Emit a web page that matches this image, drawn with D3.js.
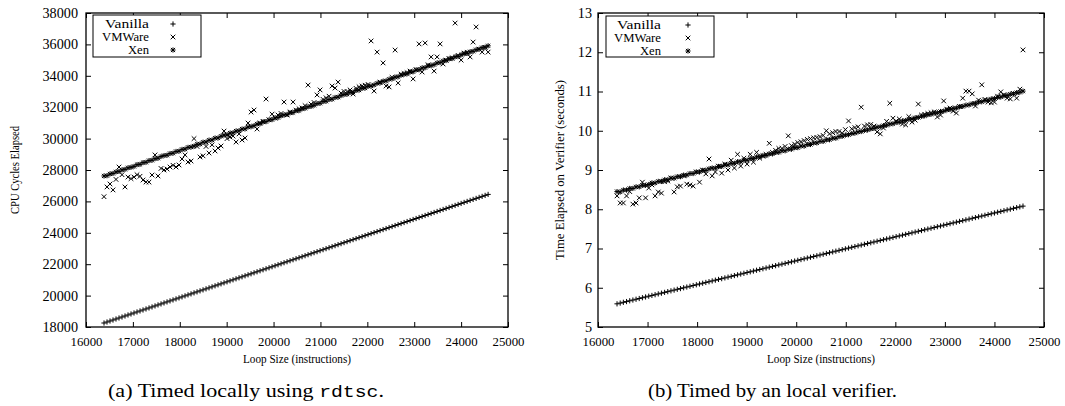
<!DOCTYPE html>
<html><head><meta charset="utf-8">
<script src="https://cdn.jsdelivr.net/npm/d3@7"></script>
<style>
body{margin:0;background:#fff}
svg{display:block}
svg text{font-family:"Liberation Serif","Tinos","Times New Roman","DejaVu Serif",serif;fill:#000}
svg text tspan.mono{font-family:"Liberation Mono","Cousine","Courier New","DejaVu Sans Mono",monospace}
</style>
</head><body>
<svg id="chart" width="1065" height="406"></svg>
<script>
// ---------- data ----------
const loopSize = [
16384,16448,16512,16576,16640,16704,16768,16832,16896,16960,
17024,17088,17152,17216,17280,17344,17408,17472,17536,17600,
17664,17728,17792,17856,17920,17984,18048,18112,18176,18240,
18304,18368,18432,18496,18560,18624,18688,18752,18816,18880,
18944,19008,19072,19136,19200,19264,19328,19392,19456,19520,
19584,19648,19712,19776,19840,19904,19968,20032,20096,20160,
20224,20288,20352,20416,20480,20544,20608,20672,20736,20800,
20864,20928,20992,21056,21120,21184,21248,21312,21376,21440,
21504,21568,21632,21696,21760,21824,21888,21952,22016,22080,
22144,22208,22272,22336,22400,22464,22528,22592,22656,22720,
22784,22848,22912,22976,23040,23104,23168,23232,23296,23360,
23424,23488,23552,23616,23680,23744,23808,23872,23936,24000,
24064,24128,24192,24256,24320,24384,24448,24512,24576];

const cyclesVanilla = [
18254,18318,18382,18446,18510,18574,18638,18702,18766,18830,
18894,18958,19022,19086,19150,19214,19278,19342,19406,19470,
19534,19598,19662,19726,19790,19854,19918,19982,20046,20110,
20174,20238,20302,20366,20430,20494,20558,20622,20686,20750,
20814,20878,20942,21006,21070,21134,21198,21262,21326,21390,
21454,21518,21582,21646,21710,21774,21838,21902,21966,22030,
22094,22158,22222,22286,22350,22414,22478,22542,22606,22670,
22734,22798,22862,22926,22990,23054,23118,23182,23246,23310,
23374,23438,23502,23566,23630,23694,23758,23822,23886,23950,
24014,24078,24142,24206,24270,24334,24398,24462,24526,24590,
24654,24718,24782,24846,24910,24974,25038,25102,25166,25230,
25294,25358,25422,25486,25550,25614,25678,25742,25806,25870,
25934,25998,26062,26126,26190,26254,26318,26382,26446];

const cyclesVMWare = [
26300,26920,27110,26730,27400,28190,27700,26920,27550,27450,
27550,27700,27600,27360,27230,27230,27680,28960,27620,28100,
28000,28060,28190,28300,28190,28320,28700,28960,28510,28570,
30000,29500,28830,28900,29500,29080,29600,29210,29400,29530,
30480,30000,30100,30160,29780,30300,29910,30040,30990,31690,
31820,30610,31000,31100,32520,31200,31560,31300,31500,31600,
32330,31500,31700,32330,31800,31900,31950,32100,33410,32200,
32300,32780,33100,32500,32600,32700,33350,33220,33600,32900,
33000,33000,33100,32840,33200,33300,33350,33400,33450,36220,
33030,35510,33600,34820,33350,33290,33900,35640,33540,34100,
34150,34200,34300,33800,34400,36030,34240,36090,34700,35200,
34300,35200,36030,34750,35000,35100,35150,37360,35300,35000,
35450,35500,35200,36150,37110,35700,35510,35800,35510];

const cyclesXen = [
27620,27640,27750,27780,27880,27910,28010,28040,28140,28170,
28230,28340,28360,28470,28490,28600,28620,28720,28750,28860,
28920,28940,29050,29070,29180,29200,29310,29330,29440,29460,
29520,29640,29650,29770,29780,29900,29910,30030,30040,30150,
30220,30240,30350,30370,30480,30500,30610,30620,30740,30760,
30820,30930,30950,31060,31080,31190,31210,31320,31340,31450,
31510,31540,31640,31660,31780,31790,31900,31930,32030,32050,
32120,32230,32250,32360,32380,32490,32510,32620,32640,32740,
32810,32830,32940,32960,33070,33090,33200,33220,33330,33350,
33420,33520,33550,33650,33680,33780,33810,33910,33940,34040,
34100,34130,34240,34260,34370,34390,34500,34520,34630,34650,
34710,34820,34840,34950,34970,35080,35100,35210,35230,35340,
35400,35430,35530,35560,35660,35690,35790,35820,35910];

const secondsVanilla = [
5.590,5.609,5.629,5.648,5.668,5.687,5.707,5.726,5.746,5.765,
5.785,5.804,5.823,5.843,5.862,5.882,5.901,5.921,5.940,5.960,
5.979,5.999,6.018,6.037,6.057,6.076,6.096,6.115,6.135,6.154,
6.174,6.193,6.212,6.232,6.251,6.271,6.290,6.310,6.329,6.349,
6.368,6.388,6.407,6.426,6.446,6.465,6.485,6.504,6.524,6.543,
6.563,6.582,6.602,6.621,6.640,6.660,6.679,6.699,6.718,6.738,
6.757,6.777,6.796,6.815,6.835,6.854,6.874,6.893,6.913,6.932,
6.952,6.971,6.991,7.010,7.030,7.049,7.068,7.088,7.107,7.127,
7.146,7.166,7.185,7.205,7.224,7.244,7.263,7.282,7.302,7.321,
7.341,7.360,7.380,7.399,7.419,7.438,7.457,7.477,7.496,7.516,
7.535,7.555,7.574,7.594,7.613,7.633,7.652,7.671,7.691,7.710,
7.730,7.749,7.769,7.788,7.808,7.827,7.846,7.866,7.885,7.905,
7.924,7.944,7.963,7.983,8.002,8.022,8.041,8.061,8.080];

const secondsVMWare = [
8.34,8.16,8.16,8.34,8.45,8.13,8.16,8.29,8.69,8.29,
8.54,8.62,8.34,8.44,8.41,8.70,8.72,8.80,8.44,8.57,
8.59,8.85,8.64,8.62,8.59,8.95,8.69,9.00,8.90,9.28,
8.85,8.95,9.10,8.92,9.15,9.00,9.25,9.05,9.40,9.10,
9.30,9.15,9.40,9.20,9.45,9.30,9.35,9.40,9.68,9.45,
9.50,9.55,9.55,9.60,9.87,9.62,9.66,9.70,9.72,9.75,
9.78,9.80,9.82,9.83,9.85,9.88,10.00,9.92,9.95,9.98,
9.98,9.94,10.03,10.25,10.05,10.08,10.10,10.60,10.12,10.15,
10.16,10.12,9.97,9.92,10.07,10.24,10.70,10.32,10.25,10.30,
10.17,10.15,10.36,10.22,10.27,10.68,10.40,10.42,10.44,10.46,
10.48,10.35,10.40,10.76,10.55,10.58,10.50,10.45,10.62,10.83,
11.01,11.01,10.94,10.63,10.78,11.17,10.80,10.73,10.71,10.73,
10.88,10.99,10.92,10.83,10.81,10.95,10.83,11.06,12.06];

const secondsXen = [
8.45,8.44,8.49,8.49,8.53,8.53,8.57,8.57,8.61,8.61,
8.63,8.67,8.67,8.71,8.71,8.75,8.75,8.79,8.79,8.83,
8.83,8.87,8.87,8.91,8.91,8.95,8.95,8.99,8.99,9.03,
9.05,9.05,9.09,9.09,9.13,9.13,9.17,9.17,9.21,9.21,
9.25,9.25,9.29,9.29,9.33,9.34,9.37,9.37,9.41,9.41,
9.45,9.45,9.49,9.49,9.53,9.53,9.57,9.57,9.61,9.61,
9.65,9.65,9.69,9.69,9.73,9.73,9.77,9.77,9.81,9.81,
9.85,9.86,9.89,9.90,9.93,9.94,9.97,9.98,10.01,10.02,
10.05,10.06,10.09,10.10,10.13,10.14,10.17,10.18,10.21,10.22,
10.25,10.26,10.29,10.30,10.33,10.34,10.37,10.38,10.41,10.42,
10.45,10.46,10.49,10.50,10.53,10.54,10.57,10.58,10.61,10.62,
10.65,10.66,10.69,10.70,10.73,10.74,10.77,10.78,10.81,10.82,
10.85,10.86,10.89,10.90,10.93,10.94,10.97,10.98,11.01];

const xTicks = [16000,17000,18000,19000,20000,21000,22000,23000,24000,25000];
const cyclesTicks = [18000,20000,22000,24000,26000,28000,30000,32000,34000,36000,38000];
const secondsTicks = [5,6,7,8,9,10,11,12,13];
const seriesNames = ["Vanilla","VMWare","Xen"];
const xTitle = "Loop Size (instructions)";

// ---------- drawing ----------
const svg = d3.select("#chart");

const markerPaths = {
  plus: s => `M${-s},0H${s}M0,${-s}V${s}`,
  cross: s => `M${-s},${-s}L${s},${s}M${-s},${s}L${s},${-s}`,
  star: s => `M${-s},0H${s}M0,${-s}V${s}M${-s*0.8},${-s*0.8}L${s*0.8},${s*0.8}M${-s*0.8},${s*0.8}L${s*0.8},${-s*0.8}`
};
const markerSpec = [
  {shape:"plus", size:2.6},
  {shape:"cross", size:2.3},
  {shape:"star", size:2.6}
];
const legendWidths = [44, 47, 21];

function panel(o){
  const g = svg.append("g");
  const x = d3.scaleLinear().domain([16000,25000]).range([o.left,o.right]);
  const y = d3.scaleLinear().domain([o.yTicks[0], o.yTicks[o.yTicks.length-1]]).range([o.bottom,o.top]);

  const styleAxis = (size, digitW) => sel => {
    sel.attr("font-family", null).attr("font-size", size);
    sel.select(".domain").remove();
    sel.selectAll(".tick line").attr("stroke","#000").attr("stroke-width",1);
    if (digitW) {
      sel.selectAll(".tick text").each(function(){
        const t = d3.select(this);
        const n = t.text().length;
        if (n) t.attr("textLength", n*digitW).attr("lengthAdjust","spacingAndGlyphs");
      });
    }
  };
  g.append("g").attr("transform",`translate(0,${o.bottom})`)
    .call(d3.axisBottom(x).tickValues(xTicks).tickSize(-5).tickPadding(10).tickFormat(d3.format("d")))
    .call(styleAxis(13, 6.4));
  g.append("g").attr("transform",`translate(0,${o.top})`)
    .call(d3.axisTop(x).tickValues(xTicks).tickSize(-5).tickFormat(""))
    .call(styleAxis(13));
  g.append("g").attr("transform",`translate(${o.left},0)`)
    .call(d3.axisLeft(y).tickValues(o.yTicks).tickSize(-5).tickPadding(o.yPad).tickFormat(d3.format("d")))
    .call(styleAxis(14, 7.1));
  g.append("g").attr("transform",`translate(${o.right},0)`)
    .call(d3.axisRight(y).tickValues(o.yTicks).tickSize(-5).tickFormat(""))
    .call(styleAxis(13));

  g.append("rect").attr("x",o.left).attr("y",o.top)
    .attr("width",o.right-o.left).attr("height",o.bottom-o.top)
    .attr("fill","none").attr("stroke","#000").attr("stroke-width",1.3);

  // series
  o.series.forEach((vals,si)=>{
    const m = markerSpec[si];
    g.append("g").selectAll("path").data(vals).join("path")
      .attr("d", markerPaths[m.shape](m.size))
      .attr("transform",(d,i)=>`translate(${x(loopSize[i])},${y(d)})`)
      .attr("fill","none").attr("stroke","#000").attr("stroke-width",1);
  });

  // legend
  const L = o.legend;
  g.append("rect").attr("x",L.x).attr("y",L.y).attr("width",L.w).attr("height",L.h)
    .attr("fill","#fff").attr("stroke","#000").attr("stroke-width",1);
  seriesNames.forEach((name,si)=>{
    const cy = L.y + 9 + si*13;
    g.append("text").attr("x",L.textX).attr("y",cy).attr("dy","0.35em")
      .attr("text-anchor","end").attr("font-size",11.7)
      .attr("textLength",legendWidths[si]).attr("lengthAdjust","spacingAndGlyphs")
      .text(name);
    const m = markerSpec[si];
    g.append("path").attr("d", markerPaths[m.shape](m.size))
      .attr("transform",`translate(${L.markX},${cy})`)
      .attr("fill","none").attr("stroke","#000").attr("stroke-width",1);
  });

  // titles
  g.append("text").attr("x",(o.left+o.right)/2).attr("y",363)
    .attr("text-anchor","middle").attr("font-size",12.5)
    .attr("textLength",108).attr("lengthAdjust","spacingAndGlyphs").text(xTitle);
  g.append("text").attr("transform",`translate(${o.yTitleX},${(o.top+o.bottom)/2}) rotate(-90)`)
    .attr("text-anchor","middle").attr("font-size",12.5)
    .attr("textLength",o.yTitleLen).attr("lengthAdjust","spacingAndGlyphs").text(o.yTitle);

  // caption
  const cap = svg.append("text").attr("x",o.capX).attr("y",397).attr("font-size",19)
    .attr("textLength",o.capLen).attr("lengthAdjust","spacingAndGlyphs");
  cap.append("tspan").text(o.caption[0]);
  if (o.caption[1]) {
    cap.append("tspan").attr("class","mono").attr("font-size",17).text(o.caption[1]);
    cap.append("tspan").text(o.caption[2]);
  }
}

panel({
  left:86, right:508, top:13, bottom:327, yTicks:cyclesTicks, yPad:8,
  series:[cyclesVanilla, cyclesVMWare, cyclesXen],
  legend:{x:93,y:15,w:108,h:42,textX:149,markX:173},
  yTitle:"CPU Cycles Elapsed", yTitleX:19, yTitleLen:88,
  caption:["(a)  Timed locally using ","rdtsc","."], capX:108, capLen:276
});
panel({
  left:598, right:1044, top:13, bottom:327, yTicks:secondsTicks, yPad:6,
  series:[secondsVanilla, secondsVMWare, secondsXen],
  legend:{x:606,y:16,w:108,h:41,textX:661,markX:688},
  yTitle:"Time Elapsed on Verifier (seconds)", yTitleX:564, yTitleLen:180,
  caption:["(b)  Timed by an local verifier."], capX:648, capLen:249
});
</script>
</body></html>
